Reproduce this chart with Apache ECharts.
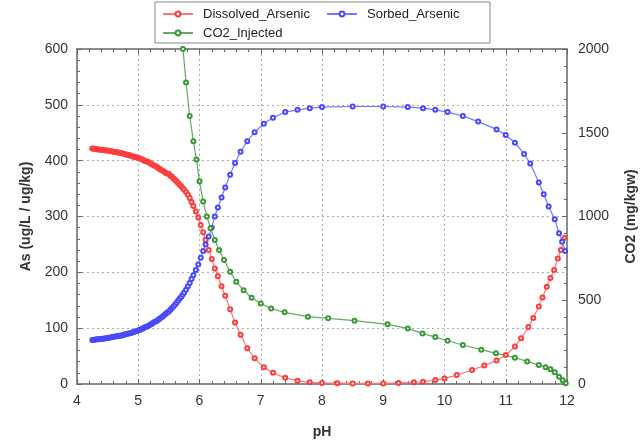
<!DOCTYPE html>
<html>
<head>
<meta charset="utf-8">
<script src="https://cdn.jsdelivr.net/npm/echarts@6/dist/echarts.min.js"></script>
<style>html,body{margin:0;padding:0;background:#fff}#c{width:644px;height:443px}</style>
</head>
<body>
<div id="c"></div>
<script>
const xTicks = [4,5,6,7,8,9,10,11,12];
const leftTicks = [0,100,200,300,400,500,600];
const rightTicks = [0,500,1000,1500,2000];

const dissolvedPH = [4.25,4.275,4.3,4.325,4.35,4.375,4.4,4.425,4.45,4.475,4.5,4.525,4.55,4.575,4.6,4.625,4.65,4.675,4.7,4.725,4.75,4.775,4.8,4.825,4.85,4.875,4.9,4.925,4.95,4.975,5.0,5.025,5.05,5.075,5.1,5.125,5.15,5.175,5.2,5.225,5.25,5.275,5.3,5.325,5.35,5.375,5.4,5.425,5.45,5.475,5.5,5.525,5.55,5.575,5.6,5.625,5.65,5.675,5.7,5.725,5.75,5.78,5.81,5.84,5.87,5.9,5.94,5.98,6.02,6.06,6.1,6.15,6.2,6.25,6.3,6.36,6.42,6.5,6.58,6.67,6.78,6.9,7.05,7.2,7.4,7.6,7.8,8.0,8.25,8.5,8.75,9.0,9.25,9.5,9.65,9.85,10.0,10.2,10.45,10.65,10.85,11.0,11.15,11.25,11.37,11.45,11.54,11.6,11.67,11.73,11.79,11.85,11.9,11.96];
const dissolvedAs = [422,421.5,421,420.5,420,419.7,419.4,419,418.6,418.3,418,417.5,417,416.5,416,415.5,415,414.5,414,413.5,413,412,411,410.5,410,409,408,407,406.5,405.5,405,404,403,401.5,400,399,398,396.5,395,393.5,392,390.5,389,387,385,383.5,382,380,378,377,376,373,371,368,366,363,360,357,354,351,348,344,339,333,326,319,309,298,285,272,258,240,224,207,193,175,158,134,110,88,64,46,30,20,11,6,3,2,1.5,1,1,1,2,3,4,7,10,16,25,33,42,52,67,82,102,118,139,155,174,190,204,225,240,262];

const sorbedPH = [4.25,4.275,4.3,4.325,4.35,4.375,4.4,4.425,4.45,4.475,4.5,4.525,4.55,4.575,4.6,4.625,4.65,4.675,4.7,4.725,4.75,4.775,4.8,4.825,4.85,4.875,4.9,4.925,4.95,4.975,5.0,5.025,5.05,5.075,5.1,5.125,5.15,5.175,5.2,5.225,5.25,5.275,5.3,5.325,5.35,5.375,5.4,5.425,5.45,5.475,5.5,5.525,5.55,5.575,5.6,5.625,5.65,5.675,5.7,5.725,5.75,5.78,5.81,5.84,5.87,5.9,5.94,5.98,6.02,6.06,6.1,6.15,6.2,6.25,6.3,6.36,6.42,6.5,6.58,6.67,6.78,6.9,7.05,7.2,7.4,7.6,7.8,8.0,8.5,9.0,9.4,9.65,9.85,10.05,10.3,10.55,10.85,11.0,11.15,11.3,11.4,11.54,11.62,11.7,11.8,11.87,11.92,11.97];
const sorbedAs = [79,79,79.5,80,80,80.5,81,81,81.5,82,82.5,83,83.5,84,84.5,85,85.5,86,86.5,87,87.5,88.5,89,90,90.5,91.5,92,93,94,95,96,97,98,99.5,101,102,103.5,105,106.5,108,110,111.5,113,115,117,119,121,123.5,126,128,130,133,136,139,142,145.5,149,152.5,156,160,164,169,175,181,188,195,204,214,226,238,250,264,280,300,316,334,352,375,396,416,435,451,466,477,487,491,494,496,497,497,496,494,491,487,480,470,456,446,432,412,395,361,340,318,295,270,255,238];

const co2PH = [5.68,5.73,5.78,5.84,5.9,5.95,6.0,6.06,6.12,6.18,6.25,6.32,6.4,6.5,6.6,6.72,6.85,7.0,7.17,7.39,7.77,8.1,8.53,9.07,9.4,9.64,9.85,10.05,10.3,10.6,10.84,11.15,11.35,11.54,11.65,11.73,11.8,11.87,11.93,11.98];
const co2Injected = [2150,2000,1800,1600,1450,1340,1210,1090,1000,930,860,800,740,670,610,560,515,480,451,428,402,392,378,356,332,302,280,258,233,205,183,157,135,113,100,88,70,44,22,5];

const pairs = (xs, ys) => xs.map((x, i) => [x, ys[i]]);

const font = 'Liberation Sans, Arial, sans-serif';
const axisColor = '#8c8c8c';
const labelStyle = {color: '#333', fontSize: 14, fontFamily: font};
const nameStyle = {color: '#333', fontSize: 14, fontWeight: 'bold', fontFamily: font};

const chart = echarts.init(document.getElementById('c'));
chart.setOption({
  animation: false,
  backgroundColor: '#fff',
  grid: {left: 77, right: 77, top: 49, bottom: 59, containLabel: false, outerBoundsMode: 'none'},
  legend: {
    left: 155, top: 2,
    padding: [4, 3, 2, 7],
    borderColor: '#888', borderWidth: 1,
    itemWidth: 30, itemHeight: 6, itemGap: 3,
    width: 340,
    textStyle: {color: '#222', fontSize: 13, fontFamily: font, width: 120, padding: [0, 0, 0, 5], lineHeight: 16},
    data: ['Dissolved_Arsenic', 'Sorbed_Arsenic', 'CO2_Injected']
  },
  xAxis: [{
    type: 'value', min: xTicks[0], max: xTicks[xTicks.length - 1], interval: 1,
    name: 'pH', nameLocation: 'middle', nameGap: 41, nameTextStyle: nameStyle,
    axisLine: {lineStyle: {color: axisColor, width: 2}},
    axisTick: {inside: true, length: 5, lineStyle: {color: '#666'}},
    minorTick: {show: true, splitNumber: 5, length: 3, lineStyle: {color: '#666'}},
    axisLabel: Object.assign({margin: 10}, labelStyle),
    splitLine: {show: true, lineStyle: {type: [2, 3], color: '#aaa'}}
  }, {
    type: 'value', position: 'top', min: 4, max: 12, interval: 1,
    axisLine: {show: true, onZero: false, lineStyle: {color: axisColor, width: 2}},
    axisTick: {inside: true, length: 5, lineStyle: {color: '#666'}},
    minorTick: {show: true, splitNumber: 5, length: 3, lineStyle: {color: '#666'}},
    axisLabel: {show: false}, splitLine: {show: false}
  }],
  yAxis: [{
    type: 'value', min: leftTicks[0], max: leftTicks[leftTicks.length - 1], interval: 100,
    name: 'As (ug/L / ug/kg)', nameLocation: 'middle', nameGap: 44, nameTextStyle: nameStyle,
    axisLine: {show: true, lineStyle: {color: axisColor, width: 2}},
    axisTick: {show: true, inside: true, length: 5, lineStyle: {color: '#666'}},
    minorTick: {show: true, splitNumber: 5, length: 3, lineStyle: {color: '#666'}},
    axisLabel: Object.assign({margin: 9}, labelStyle),
    splitLine: {show: true, lineStyle: {type: [2, 3], color: '#aaa'}}
  }, {
    type: 'value', position: 'right', min: rightTicks[0], max: rightTicks[rightTicks.length - 1], interval: 500,
    name: 'CO2 (mg/kgw)', nameLocation: 'middle', nameGap: 57, nameRotate: 90, nameTextStyle: nameStyle,
    axisLine: {show: true, lineStyle: {color: axisColor, width: 2}},
    axisTick: {show: true, inside: true, length: 5, lineStyle: {color: '#666'}},
    minorTick: {show: true, splitNumber: 5, length: 3, lineStyle: {color: '#666'}},
    axisLabel: Object.assign({margin: 11, formatter: v => String(v)}, labelStyle),
    splitLine: {show: false}
  }],
  series: [{
    name: 'Dissolved_Arsenic', type: 'line', yAxisIndex: 0,
    data: pairs(dissolvedPH, dissolvedAs),
    symbol: 'emptyCircle', symbolSize: 4, showAllSymbol: true,
    itemStyle: {color: '#ff3c3c', borderWidth: 1},
    lineStyle: {color: '#ff7474', width: 1.2}
  }, {
    name: 'Sorbed_Arsenic', type: 'line', yAxisIndex: 0,
    data: pairs(sorbedPH, sorbedAs),
    symbol: 'emptyCircle', symbolSize: 4, showAllSymbol: true,
    itemStyle: {color: '#4848ff', borderWidth: 1},
    lineStyle: {color: '#7676ff', width: 1.2}
  }, {
    name: 'CO2_Injected', type: 'line', yAxisIndex: 1,
    data: pairs(co2PH, co2Injected),
    symbol: 'emptyCircle', symbolSize: 4, showAllSymbol: true, clip: true,
    itemStyle: {color: '#389838', borderWidth: 1},
    lineStyle: {color: '#62ab62', width: 1.2}
  }]
});
</script>
</body>
</html>
